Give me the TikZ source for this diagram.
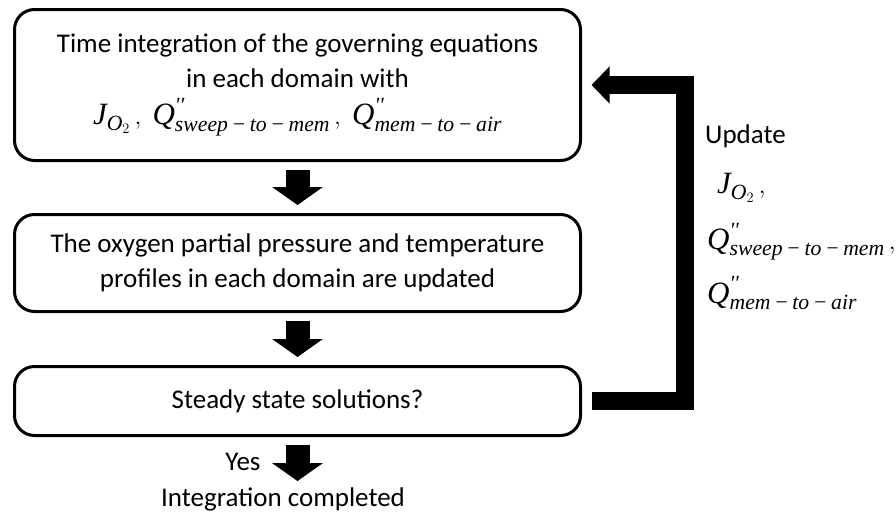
\documentclass[tikz,border=0pt]{standalone}
\usepackage{amsmath}
\usepackage{fontspec}
\setmainfont{Carlito}
\newfontfamily\tnr{Liberation Serif}
\usetikzlibrary{arrows.meta,positioning}

% italic Times letters for the flux symbols
\newcommand{\mi}[1]{\text{\tnr\itshape #1}}
\newcommand{\Jox}{\mi{J}_{\mi{O}_{2}}}
\newcommand{\Qsw}{\mi{Q}^{\mi{''}}_{\mi{sweep\,−\,to\,−\,mem}}}
\newcommand{\Qma}{\mi{Q}^{\mi{''}}_{\mi{mem\,−\,to\,−\,air}}}
\newcommand{\mathsz}{\fontsize{31}{35}\selectfont}

\begin{document}
\begin{tikzpicture}[
  x=1pt, y=-1pt,
  font=\fontsize{27}{35}\selectfont,
  box/.style={draw, line width=3pt, rounded corners=20pt, align=center,
    minimum width=566pt, inner sep=0pt},
  down/.style={line width=24pt, -{Triangle[width=50pt,length=18pt]}},
  back/.style={line width=18pt, -{Triangle[width=36pt,length=18pt]},
    shorten <=9.5pt, shorten >=9.5pt}
]
\useasboundingbox (0,0) rectangle (896,522);
\node[box, minimum height=151pt] (integ) at (297.5,85)
  {Time integration of the governing equations\\
   in each domain with\\[2pt]
   {\mathsz$\Jox\,,\ \Qsw\,,\ \Qma$}};
\node[box, minimum height=97pt, below=51pt of integ] (profiles)
  {The oxygen partial pressure and temperature\\
   profiles in each domain are updated};
\node[box, minimum height=69pt, below=52pt of profiles] (steady)
  {Steady state solutions?};
\node[anchor=base, inner sep=0pt] (done) at (283,506) {Integration completed};
\node[anchor=north west, align=left, inner sep=0pt] (update) at (705,125)
  {Update\\[15pt]
   \hspace{12pt}{\mathsz$\Jox\,,$}\\[19pt]
   \hspace{2pt}{\mathsz$\Qsw\,,$}\\[15pt]
   \hspace{2pt}{\mathsz$\Qma$}};
\draw[down, shorten <=8pt, shorten >=8pt] (integ) -- (profiles);
\draw[down, shorten <=8pt, shorten >=8pt] (profiles) -- (steady);
\draw[down, shorten <=8pt, shorten >=6pt] (steady.south) -- (steady.south |- done.north)
  node[midway, left=37pt, inner sep=0pt, outer sep=0pt] {Yes};
\draw[back] (steady.east) -- ++(103,0) |- (integ.east);
\end{tikzpicture}
\end{document}
